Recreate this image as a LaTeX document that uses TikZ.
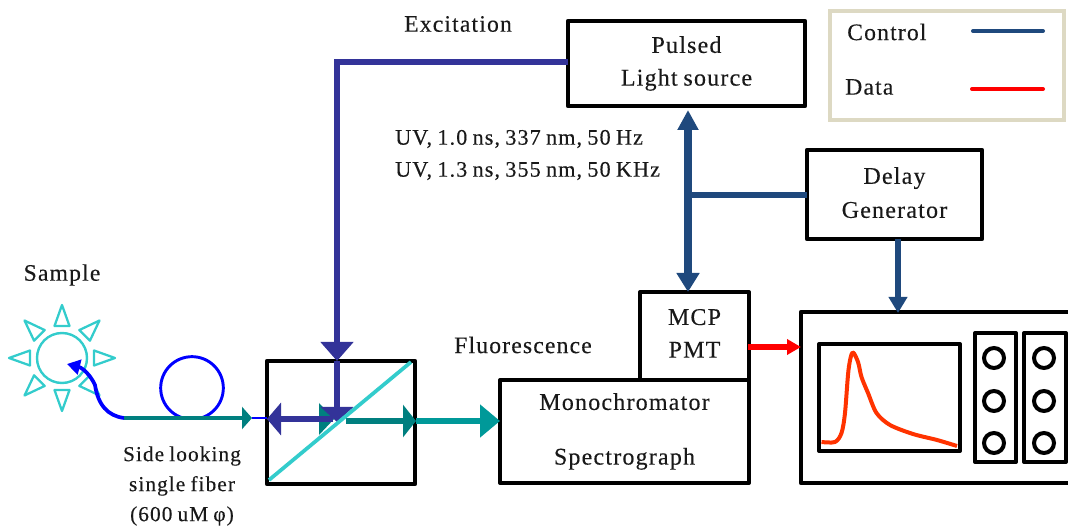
\documentclass[tikz,border=0pt]{standalone}
\usepackage{fontspec}
\setmainfont[LetterSpace=5,WordSpace=0.8,FakeBold=0.25]{Liberation Serif}
\usetikzlibrary{arrows.meta}
\def\px{0.75pt}
\definecolor{ctrl}{HTML}{1F497D}
\definecolor{excit}{HTML}{333399}
\definecolor{tealD}{HTML}{007F7F}
\definecolor{tealL}{HTML}{009999}
\definecolor{cyanL}{HTML}{33CCCC}
\definecolor{legendC}{HTML}{DDD9C3}
\definecolor{traceC}{HTML}{FF3300}
\tikzset{
  x=0.75pt,y=-0.75pt,
  txt/.style={font=\fontsize{17.7}{24.5}\selectfont,inner sep=0pt,text=black!90},
  boxtxt/.style={font=\fontsize{18}{24.5}\selectfont,inner sep=0pt,text=black!90},
  uvtxt/.style={font=\fontsize{16.6}{24}\selectfont,inner sep=0pt,text=black!90},
  box/.style={draw=black,line width=3.3pt,line join=round,inner sep=0pt,outer sep=0pt,align=center,boxtxt},
  thinbox/.style={box,line width=3pt},
  knob/.style={circle,draw=black,line width=3pt,minimum size=20*\px,inner sep=0pt,outer sep=0pt},
  ctrlline/.style={draw=ctrl,line width=4pt},
  excitline/.style={draw=excit,line width=5pt},
  ray/.style={draw=cyanL,line width=1.7pt,line join=round},
}
\begin{document}
\begin{tikzpicture}
\useasboundingbox (0,0) rectangle (1068,527);
% boxes
\node[box,minimum width=237*\px,minimum height=85*\px] (pulsed) at (686.5,63.5) {\raisebox{1pt}{Pulsed}\\\raisebox{1pt}{Light source}};
\node[box,minimum width=175*\px,minimum height=89*\px] (delay) at (894.5,194.5) {\raisebox{4pt}{Delay}\\\raisebox{3pt}{Generator}};
\node[thinbox,minimum width=109*\px,minimum height=88*\px] (mcp) at (694.5,336) {\raisebox{4pt}{MCP}\\\raisebox{4pt}{PMT}};
\node[thinbox,minimum width=249*\px,minimum height=103*\px] (mono) at (624.5,431.5) {\raisebox{-1pt}{Monochromator}\\[16.5pt]\raisebox{-1pt}{Spectrograph}};
\node[box,minimum width=148*\px,minimum height=123*\px] (split) at (341,422.5) {};
% legend
\node[draw=legendC,line width=3pt,minimum width=234*\px,minimum height=109*\px,inner sep=0pt,outer sep=0pt] (legend) at (947,65.5) {};
\node[txt,anchor=west] (lc) at (847,32) {Control};
\node[txt,anchor=west] (ld) at (845,87) {Data};
\coordinate (lc1) at (973,31); \coordinate (lc2) at (1043,31);
\coordinate (ld1) at (972,89); \coordinate (ld2) at (1043,89);
\draw[draw=ctrl,line width=3pt,line cap=round] (lc1) -- (lc2);
\draw[draw=red,line width=3pt,line cap=round] (ld1) -- (ld2);
% oscilloscope (runs off the right edge)
\coordinate (sTR) at (1068,312); \coordinate (sTL) at (801,312);
\coordinate (sBL) at (801,483); \coordinate (sBR) at (1068,483);
\draw[line width=3.3pt,line join=round] (sTR) -- (sTL) -- (sBL) -- (sBR);
\node[thinbox,minimum width=141*\px,minimum height=107*\px] (screen) at (889.5,397.5) {};
\node[thinbox,minimum width=41*\px,minimum height=129*\px] (pan1) at (995.5,397.5) {};
\node[thinbox,minimum width=42*\px,minimum height=129*\px] (pan2) at (1045,397.5) {};
\foreach \n/\xx in {a/994,b/1044}{
  \foreach \m/\yy in {1/358,2/401,3/443}{
    \node[knob] (k\n\m) at (\xx,\yy) {};
  }
}
\draw[traceC,line width=3pt,line join=round] plot[smooth,tension=0.5] coordinates
 {(821.5,442) (835,442) (841.5,433) (845,413) (848.5,370) (852.5,352.5) (858,362) (861.5,377) (868,393) (876.5,413) (890,425) (913,434) (937,440) (957,446)};
% excitation path
\coordinate (ex1) at (337,62);
\coordinate (exIn) at (337,361);
\coordinate (exHit) at (337,422);
\coordinate (leftHit) at (333,419);
\coordinate (leftOut) at (267,419);
% teal fluorescence
\fill[tealD] (319,403) -- (334,419) -- (319,435) -- cycle;
\coordinate (fl1) at (346,421);
\coordinate (fl2) at (416,421);
\coordinate (fl3) at (500,421);
\draw[tealD,line width=5pt,-{Triangle[length=13*\px,width=32*\px]}] (fl1) -- (fl2);
\draw[tealL,line width=5pt,-{Triangle[length=20*\px,width=32*\px]}] (fl2) -- (fl3);
\draw[excitline,-{Triangle[length=19*\px,width=32*\px]}] (pulsed.west |- ex1) -- (ex1) -- (exIn);
\draw[excitline,-{Triangle[length=15*\px,width=32*\px]}] (exIn) -- (exHit);
\draw[excitline,-{Triangle[length=14*\px,width=32*\px]}] (leftHit) -- (leftOut);
\draw[draw=cyanL,line width=2.8pt] (split.south west)++(2,-4) coordinate (d1) -- (411,362) coordinate (d2);
% control lines
\coordinate (v1) at (688,110); \coordinate (v2) at (688,292); \coordinate (vj) at (688,195);
\draw[draw=ctrl,line width=6pt,{Triangle[length=20*\px,width=20*\px]}-{Triangle[length=19*\px,width=22*\px]}] (v1) -- (v2);
\draw[ctrlline] (vj) -- (vj -| delay.west);
\coordinate (dOut) at (898,239); \coordinate (sIn) at (898,313);
\draw[ctrlline,-{Triangle[length=16*\px,width=18*\px]}] (dOut) -- (sIn);
% data
\coordinate (rA) at (748,347); \coordinate (rB) at (801,347);
\draw[draw=red,line width=4pt,-{Triangle[length=14*\px,width=15*\px]}] (rA) -- (rB);
% sample
\node[circle,draw=cyanL,line width=1.8pt,minimum size=50*\px,inner sep=0pt,outer sep=0pt] (sample) at (62,358) {};
\foreach \a in {0,45,...,315}{
  \draw[ray,shift={(62,358)},rotate=\a] (32,-7.5) -- (53,0) -- (32,7.5) -- cycle;
}
% fibre
\coordinate (f0) at (124,418); \coordinate (f1) at (252,418); \coordinate (tipS) at (67,364);
\begin{scope}
\clip (150,350) rectangle (235,418);
\draw[blue,line width=2.2pt] (192,388) circle[radius=23.5pt];
\end{scope}
\draw[blue,line width=2.2pt] (f1) -- (f1 -| leftOut);
\draw[blue,line width=2.8pt,-{Triangle[length=13*\px,width=15*\px]}] (f0) .. controls (108,416) and (98,405) .. (95,385) .. controls (91,376) and (83,368) .. (tipS);
\draw[tealD,line width=2.6pt,-{Triangle[length=10*\px,width=22*\px]}] (f0) -- (f1);
% labels
\node[txt] (exc) at (458,24) {Excitation};
\node[uvtxt,anchor=west] (uv1) at (395,139) {UV, 1.0 ns, 337 nm, 50 Hz};
\node[uvtxt,anchor=west] (uv2) at (395,171) {UV, 1.3 ns, 355 nm, 50 KHz};
\node[txt] (flu) at (523,345) {Fluorescence};
\node[txt] (sam) at (62,275) {Sample};
\node[uvtxt,align=center,font=\fontsize{16}{22.5}\selectfont] (side) at (182,486) {Side looking\\single fiber\\(600 uM φ)};
\end{tikzpicture}
\end{document}
